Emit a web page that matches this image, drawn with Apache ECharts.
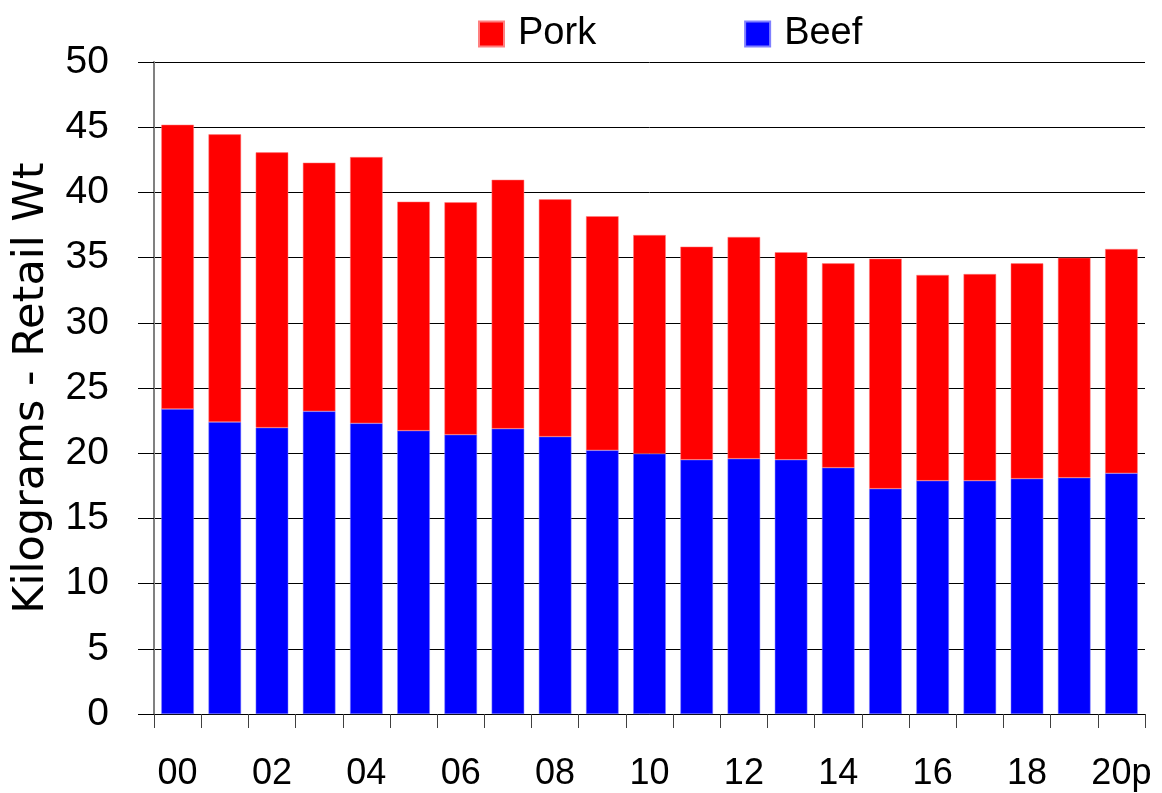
<!DOCTYPE html>
<html>
<head>
<meta charset="utf-8">
<script src="https://cdn.jsdelivr.net/npm/echarts@6/dist/echarts.min.js"></script>
<style>html,body{margin:0;padding:0;background:#fff}#c{width:1162px;height:793px}</style>
</head>
<body>
<div id="c"></div>
<script>
const categories = ['00','01','02','03','04','05','06','07','08','09','10','11','12','13','14','15','16','17','18','19','20p'];
const beef = [23.39,22.39,21.96,23.21,22.29,21.73,21.42,21.88,21.27,20.22,19.96,19.50,19.58,19.50,18.89,17.28,17.89,17.89,18.05,18.12,18.46];
const pork = [21.80,22.06,21.11,19.07,20.42,17.56,17.82,19.09,18.20,17.95,16.77,16.34,17.00,15.91,15.67,17.64,15.78,15.85,16.51,16.87,17.20];
const yTicks = [0,5,10,15,20,25,30,35,40,45,50];

const chart = echarts.init(document.getElementById('c'));
chart.setOption({
  animation: false,
  backgroundColor: '#fff',
  grid: { left: 154, right: 17, top: 62, bottom: 79, containLabel: false, outerBoundsMode: 'none' },
  legend: {
    data: ['Pork', 'Beef'],
    left: 478, top: 15, padding: 0,
    itemWidth: 25, itemHeight: 25, itemGap: 148,
    icon: 'rect',
    textStyle: { fontFamily: 'Liberation Sans', fontSize: 38, color: '#000', lineHeight: 25, padding: [0,0,0,9] }
  },
  xAxis: {
    type: 'category',
    data: categories,
    axisLine: { lineStyle: { color: '#000', width: 1 } },
    axisTick: { show: true, interval: 0, length: 14, lineStyle: { color: '#404040' } },
    axisLabel: { interval: 1, fontFamily: 'Liberation Sans Narrow, Liberation Sans', fontSize: 36, color: '#000', margin: 42,
      formatter: function (v) { return v; } }
  },
  yAxis: {
    type: 'value',
    min: 0, max: 50, interval: 5,
    name: 'Kilograms - Retail Wt',
    nameLocation: 'middle',
    nameGap: 101,
    nameTextStyle: { fontFamily: 'DejaVu Sans', fontSize: 43, color: '#000' },
    axisLine: { show: true, lineStyle: { color: '#808080', width: 2 } },
    axisTick: { show: true, inside: false, length: 16, lineStyle: { color: '#000' } },
    axisLabel: { fontFamily: 'Liberation Sans', fontSize: 39, color: '#000', margin: 45,
      formatter: function (v) { return yTicks.indexOf(v) >= 0 ? String(v) : ''; } },
    splitLine: { show: true, lineStyle: { color: '#000', width: 1 } }
  },
  series: [
    { name: 'Beef', type: 'bar', stack: 'm', data: beef, barCategoryGap: '31%',
      itemStyle: { color: '#0000ff', borderColor: '#8080ff', borderWidth: 0.5 } },
    { name: 'Pork', type: 'bar', stack: 'm', data: pork, barCategoryGap: '31%',
      itemStyle: { color: '#ff0000', borderColor: '#ff8080', borderWidth: 0.5 } }
  ]
});
</script>
</body>
</html>
